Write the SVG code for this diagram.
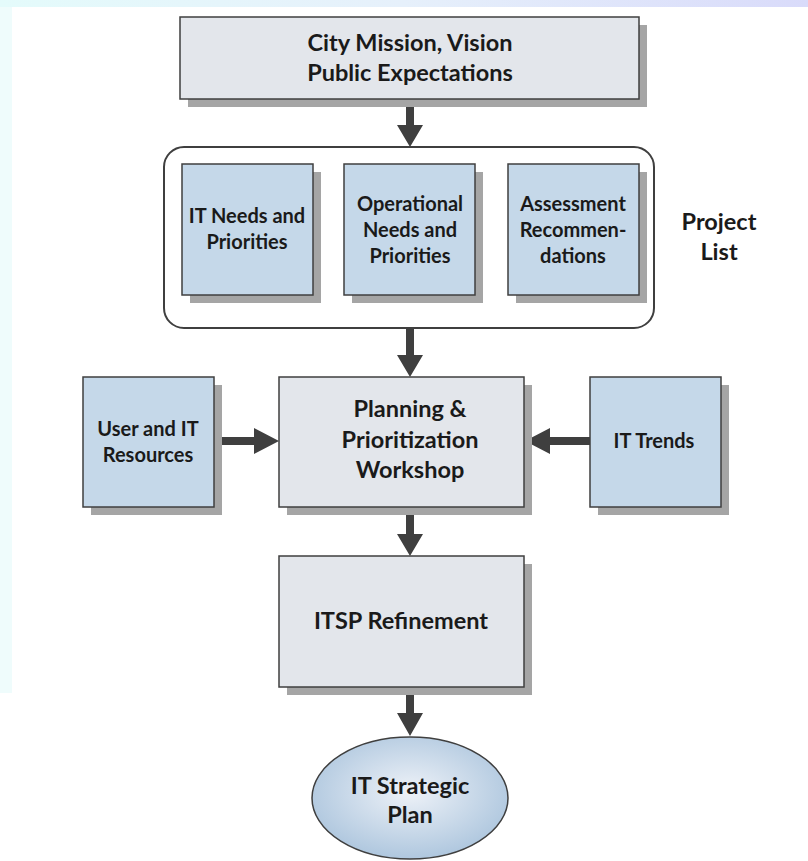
<svg xmlns="http://www.w3.org/2000/svg" width="808" height="861" viewBox="0 0 808 861">
<defs>
<linearGradient id="topbar" x1="0" y1="0" x2="1" y2="0">
<stop offset="0" stop-color="#e4fbfb"/><stop offset="0.5" stop-color="#e6f0fb"/><stop offset="1" stop-color="#d9dbfa"/>
</linearGradient>
<radialGradient id="ell" cx="0.5" cy="0.45" r="0.6">
<stop offset="0" stop-color="#eef2f8"/><stop offset="1" stop-color="#a9c3dc"/>
</radialGradient>
<style>
.gray{fill:#e3e6eb;stroke:#3f3f3f;stroke-width:1.5}
.blue{fill:#c5d8e9;stroke:#3f3f3f;stroke-width:1.5}
.sh{fill:#a5a5a5}
.t{font-family:Lato,"Open Sans",sans-serif;font-weight:bold;fill:#1a1a1a;text-anchor:middle}
.big{font-size:23.5px}
.sm{font-size:20px}
.arr{fill:#3f3f3f}
</style>
</defs>
<rect x="0" y="0" width="808" height="861" fill="#ffffff"/>
<rect x="0" y="0" width="808" height="7" fill="url(#topbar)"/>
<rect x="0" y="7" width="12" height="686" fill="#effcfc"/>

<g id="connectors">
<polygon class="arr" points="406,99 414,99 414,125 423,125 410,147 397,125 406,125"/>
<polygon class="arr" points="406,328 414,328 414,355 423,355 410,377 397,355 406,355"/>
<polygon class="arr" points="406,507 414,507 414,534 423,534 410,556 397,534 406,534"/>
<polygon class="arr" points="406,687 414,687 414,713 423,713 410,736 397,713 406,713"/>
<polygon class="arr" points="214,437 254,437 254,428 279,441 254,454 254,445 214,445"/>
<polygon class="arr" points="590,437 550,437 550,428 525,441 550,454 550,445 590,445"/>
</g>

<g id="mission">
<rect class="sh" x="188" y="25" width="459" height="82"/>
<rect class="gray" x="180" y="17" width="459" height="82"/>
<text class="t big" x="410" y="51">City Mission, Vision</text>
<text class="t big" x="410" y="81">Public Expectations</text>
</g>

<g id="project-list">
<rect x="164" y="147" width="490" height="181" rx="20" fill="#ffffff" stroke="#3f3f3f" stroke-width="2"/>
<text class="t big" x="719" y="230">Project</text>
<text class="t big" x="719" y="260">List</text>
</g>

<g id="it-needs">
<rect class="sh" x="190" y="172" width="131" height="131"/>
<rect class="blue" x="182" y="164" width="131" height="131"/>
<text class="t sm" x="247" y="223">IT Needs and</text>
<text class="t sm" x="247" y="249">Priorities</text>
</g>

<g id="op-needs">
<rect class="sh" x="352" y="172" width="131" height="131"/>
<rect class="blue" x="344" y="164" width="131" height="131"/>
<text class="t sm" x="410" y="211">Operational</text>
<text class="t sm" x="410" y="237">Needs and</text>
<text class="t sm" x="410" y="263">Priorities</text>
</g>

<g id="assessment">
<rect class="sh" x="516" y="172" width="131" height="131"/>
<rect class="blue" x="508" y="164" width="131" height="131"/>
<text class="t sm" x="573" y="211">Assessment</text>
<text class="t sm" x="573" y="237">Recommen-</text>
<text class="t sm" x="573" y="263">dations</text>
</g>

<g id="user-it">
<rect class="sh" x="91" y="385" width="131" height="130"/>
<rect class="blue" x="83" y="377" width="131" height="130"/>
<text class="t sm" x="148" y="436">User and IT</text>
<text class="t sm" x="148" y="462">Resources</text>
</g>

<g id="workshop">
<rect class="sh" x="287" y="385" width="245" height="130"/>
<rect class="gray" x="279" y="377" width="245" height="130"/>
<text class="t big" x="410" y="417">Planning &amp;</text>
<text class="t big" x="410" y="448">Prioritization</text>
<text class="t big" x="410" y="478">Workshop</text>
</g>

<g id="it-trends">
<rect class="sh" x="598" y="385" width="131" height="130"/>
<rect class="blue" x="590" y="377" width="131" height="130"/>
<text class="t sm" x="654" y="448">IT Trends</text>
</g>

<g id="itsp">
<rect class="sh" x="287" y="564" width="245" height="131"/>
<rect class="gray" x="279" y="556" width="245" height="131"/>
<text class="t big" x="401" y="629">ITSP Refinement</text>
</g>

<g id="strategic-plan">
<ellipse cx="410" cy="798" rx="98" ry="61" fill="url(#ell)" stroke="#3f3f3f" stroke-width="1.5"/>
<text class="t big" x="410" y="794">IT Strategic</text>
<text class="t big" x="410" y="823">Plan</text>
</g>
</svg>
